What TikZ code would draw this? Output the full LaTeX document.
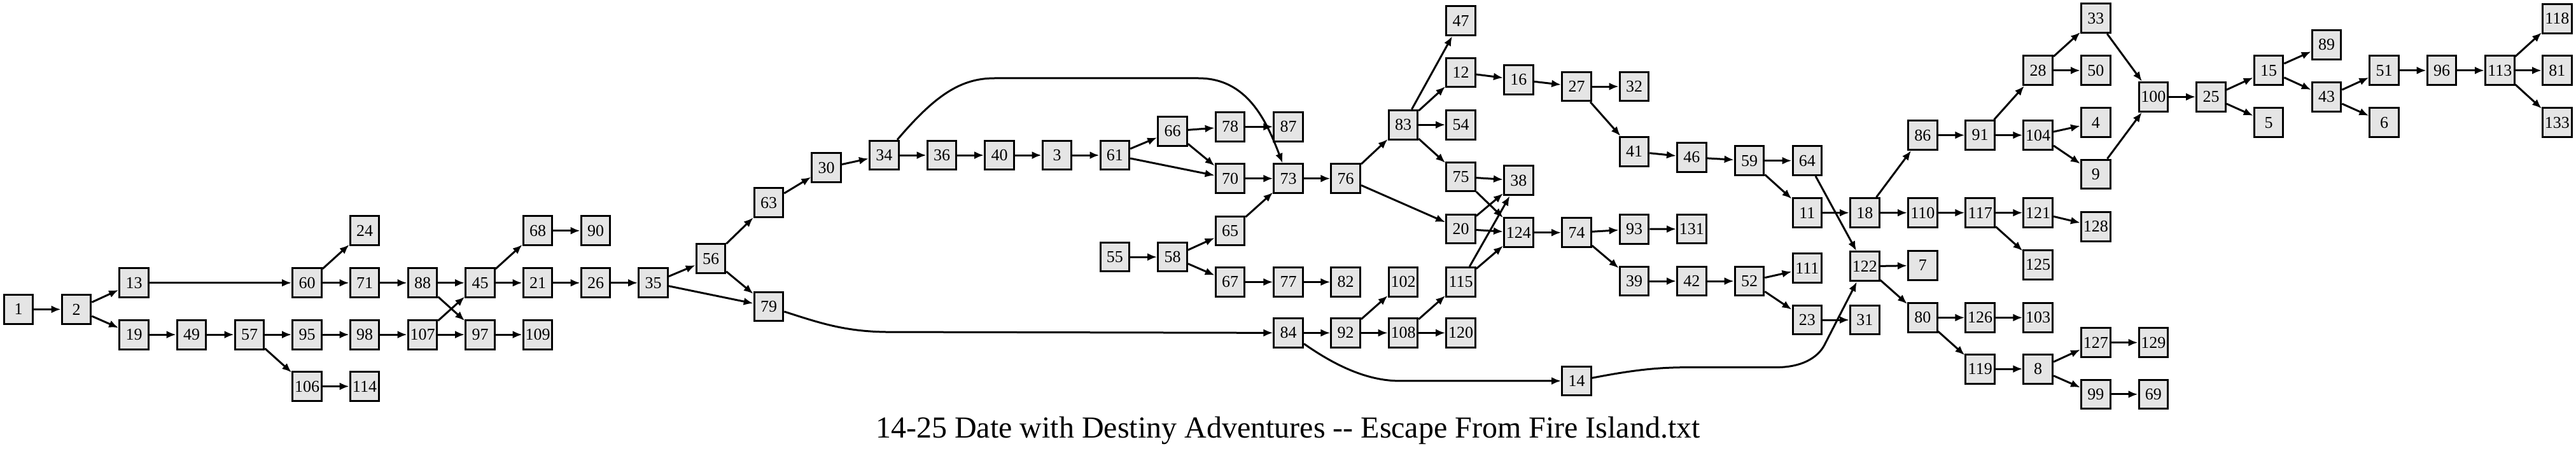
\documentclass[tikz,border=0pt]{standalone}
\usepackage{fontspec}
\setmainfont{Liberation Serif}
\usetikzlibrary{arrows.meta}
\tikzset{>={Latex[length=15pt,width=12pt]}}
\definecolor{boxgray}{gray}{0.9}
\tikzset{passage/.style = {draw=black, fill=boxgray, line width=3pt, minimum width=45.6pt, minimum height=45.8pt, inner sep=0pt, font=\fontsize{26}{30}\selectfont}}
\tikzset{link/.style = {->, line width=3pt}}

\begin{document}
\begin{tikzpicture}[x=1pt, y=-1.356pt]
		\useasboundingbox (0,0) rectangle (4048,520);

		% Start
		\node[passage] (n1) at (29,358.7) {1};
		\node[passage] (n2) at (120,358.7) {2};
		\node[passage] (n13) at (210.5,328) {13};
		\node[passage] (n19) at (210.5,388) {19};
		\node[passage] (n49) at (301,388) {49};
		\node[passage] (n57) at (392,388) {57};
		\node[passage] (n60) at (482.5,328) {60};
		\node[passage] (n95) at (482.5,388) {95};
		\node[passage] (n106) at (482.5,448) {106};
		\node[passage] (n24) at (573,267.5) {24};
		\node[passage] (n71) at (573,328) {71};
		\node[passage] (n98) at (573,388) {98};
		\node[passage] (n114) at (573,448) {114};
		\node[passage] (n88) at (664,328) {88};
		\node[passage] (n107) at (664,388) {107};
		\node[passage] (n45) at (754.5,328) {45};
		\node[passage] (n97) at (754.5,388) {97};
		\node[passage] (n68) at (845,267.5) {68};
		\node[passage] (n21) at (845,328) {21};
		\node[passage] (n109) at (845,388) {109};
		\node[passage] (n90) at (936,267.5) {90};
		\node[passage] (n26) at (936,328) {26};
		\node[passage] (n35) at (1026.5,328) {35};
		\node[passage] (n56) at (1117,300) {56};
		\node[passage] (n63) at (1208,235) {63};
		\node[passage] (n79) at (1208,355.5) {79};
		\node[passage] (n30) at (1298.7,194.5) {30};

		% Middle
		\node[passage] (n34) at (1389.3,180) {34};
		\node[passage] (n36) at (1480,180) {36};
		\node[passage] (n40) at (1570.5,180) {40};
		\node[passage] (n3) at (1661,180) {3};
		\node[passage] (n61) at (1751.8,180) {61};
		\node[passage] (n55) at (1751.8,298) {55};
		\node[passage] (n66) at (1842.5,152) {66};
		\node[passage] (n58) at (1842.5,298) {58};
		\node[passage] (n78) at (1933,147) {78};
		\node[passage] (n70) at (1933,207) {70};
		\node[passage] (n65) at (1933,267.7) {65};
		\node[passage] (n67) at (1933,327) {67};
		\node[passage] (n87) at (2024.7,147) {87};
		\node[passage] (n73) at (2024.7,207) {73};
		\node[passage] (n77) at (2024.7,327) {77};
		\node[passage] (n84) at (2024.7,386) {84};
		\node[passage] (n76) at (2114.7,207) {76};
		\node[passage] (n82) at (2114.7,327) {82};
		\node[passage] (n92) at (2114.7,386) {92};
		\node[passage] (n83) at (2205,144.7) {83};
		\node[passage] (n102) at (2205,327) {102};
		\node[passage] (n108) at (2205,386) {108};
		\node[passage] (n47) at (2295.5,24) {47};
		\node[passage] (n12) at (2295.5,84) {12};
		\node[passage] (n54) at (2295.5,144.7) {54};
		\node[passage] (n75) at (2295.5,205) {75};
		\node[passage] (n20) at (2295.5,265.5) {20};
		\node[passage] (n115) at (2295.5,327) {115};
		\node[passage] (n120) at (2295.5,386) {120};
		\node[passage] (n16) at (2386.3,92.5) {16};
		\node[passage] (n38) at (2386.3,209.3) {38};
		\node[passage] (n124) at (2386.3,269.7) {124};
		\node[passage] (n27) at (2477.5,100.3) {27};
		\node[passage] (n74) at (2477.5,269.7) {74};
		\node[passage] (n14) at (2477.5,441.7) {14};
		\node[passage] (n32) at (2568,100.3) {32};
		\node[passage] (n41) at (2568,175.7) {41};
		\node[passage] (n93) at (2568,265.7) {93};
		\node[passage] (n39) at (2568,326) {39};
		\node[passage] (n46) at (2658.3,182.5) {46};
		\node[passage] (n131) at (2658.3,265.5) {131};
		\node[passage] (n42) at (2658.3,326) {42};
		\node[passage] (n59) at (2749,186.3) {59};
		\node[passage] (n52) at (2749,326) {52};
		\node[passage] (n64) at (2839.8,186.3) {64};
		\node[passage] (n11) at (2839.8,246.7) {11};
		\node[passage] (n111) at (2839.8,311) {111};
		\node[passage] (n23) at (2839.8,371) {23};
		\node[passage] (n18) at (2930.3,246.7) {18};
		\node[passage] (n122) at (2930.3,308.8) {122};
		\node[passage] (n31) at (2930.3,371) {31};

		% End
		\node[passage] (n86) at (3021.3,156.7) {86};
		\node[passage] (n110) at (3021.3,246.7) {110};
		\node[passage] (n7) at (3021.3,307.8) {7};
		\node[passage] (n80) at (3021.3,368.3) {80};
		\node[passage] (n91) at (3111.7,156.7) {91};
		\node[passage] (n117) at (3111.7,246.7) {117};
		\node[passage] (n126) at (3111.7,368.3) {126};
		\node[passage] (n119) at (3111.7,427.8) {119};
		\node[passage] (n28) at (3202.7,81.7) {28};
		\node[passage] (n104) at (3202.7,156.7) {104};
		\node[passage] (n121) at (3202.7,246.7) {121};
		\node[passage] (n125) at (3202.7,307) {125};
		\node[passage] (n103) at (3202.7,368.3) {103};
		\node[passage] (n8) at (3202.7,427.8) {8};
		\node[passage] (n33) at (3293.3,21.2) {33};
		\node[passage] (n50) at (3293.3,81.7) {50};
		\node[passage] (n4) at (3293.3,142) {4};
		\node[passage] (n9) at (3293.3,202) {9};
		\node[passage] (n128) at (3293.3,262.7) {128};
		\node[passage] (n127) at (3293.3,397.2) {127};
		\node[passage] (n99) at (3293.3,457.2) {99};
		\node[passage] (n100) at (3383.8,112.3) {100};
		\node[passage] (n129) at (3383.8,397.2) {129};
		\node[passage] (n69) at (3383.8,457.2) {69};
		\node[passage] (n25) at (3474.5,112.3) {25};
		\node[passage] (n15) at (3565,81.7) {15};
		\node[passage] (n5) at (3565,142.2) {5};
		\node[passage] (n89) at (3656,51.8) {89};
		\node[passage] (n43) at (3656,112.3) {43};
		\node[passage] (n51) at (3746.7,81.7) {51};
		\node[passage] (n6) at (3746.7,142.2) {6};
		\node[passage] (n96) at (3837,81.7) {96};
		\node[passage] (n113) at (3928.3,81.7) {113};
		\node[passage] (n118) at (4018.3,21.5) {118};
		\node[passage] (n81) at (4018.3,81.7) {81};
		\node[passage] (n133) at (4018.3,142.2) {133};

		% Links
		\draw[link] (n1) -- (n2);
		\draw[link] (n2) -- (n13); \draw[link] (n2) -- (n19);
		\draw[link] (n13) -- (n60); \draw[link] (n19) -- (n49); \draw[link] (n49) -- (n57);
		\draw[link] (n57) -- (n95); \draw[link] (n57) -- (n106);
		\draw[link] (n60) -- (n24); \draw[link] (n60) -- (n71);
		\draw[link] (n71) -- (n88); \draw[link] (n95) -- (n98); \draw[link] (n98) -- (n107); \draw[link] (n106) -- (n114);
		\draw[link] (n88) -- (n45); \draw[link] (n88) -- (n97);
		\draw[link] (n107) -- (n45); \draw[link] (n107) -- (n97);
		\draw[link] (n45) -- (n68); \draw[link] (n45) -- (n21); \draw[link] (n97) -- (n109);
		\draw[link] (n68) -- (n90); \draw[link] (n21) -- (n26); \draw[link] (n26) -- (n35);
		\draw[link] (n35) -- (n56); \draw[link] (n35) -- (n79);
		\draw[link] (n56) -- (n63); \draw[link] (n56) -- (n79);
		\draw[link] (n63) -- (n30); \draw[link] (n30) -- (n34);
		\draw[link] (n34) -- (n36); \draw[link] (n36) -- (n40); \draw[link] (n40) -- (n3); \draw[link] (n3) -- (n61);
		\draw[link] (n61) -- (n66); \draw[link] (n61) -- (n70);
		\draw[link] (n66) -- (n78); \draw[link] (n66) -- (n70);
		\draw[link] (n55) -- (n58); \draw[link] (n58) -- (n65); \draw[link] (n58) -- (n67);
		\draw[link] (n78) -- (n87); \draw[link] (n70) -- (n73); \draw[link] (n65) -- (n73); \draw[link] (n67) -- (n77);
		\draw[link] (n73) -- (n76); \draw[link] (n76) -- (n83); \draw[link] (n76) -- (n20);
		\draw[link] (n83) -- (n47); \draw[link] (n83) -- (n12); \draw[link] (n83) -- (n54); \draw[link] (n83) -- (n75);
		\draw[link] (n77) -- (n82); \draw[link] (n84) -- (n92);
		\draw[link] (n92) -- (n102); \draw[link] (n92) -- (n108);
		\draw[link] (n108) -- (n115); \draw[link] (n108) -- (n120);
		\draw[link] (n12) -- (n16); \draw[link] (n16) -- (n27);
		\draw[link] (n27) -- (n32); \draw[link] (n27) -- (n41); \draw[link] (n41) -- (n46);
		\draw[link] (n75) -- (n38); \draw[link] (n75) -- (n124);
		\draw[link] (n20) -- (n38); \draw[link] (n20) -- (n124);
		\draw[link] (n115) -- (n38); \draw[link] (n115) -- (n124);
		\draw[link] (n124) -- (n74); \draw[link] (n74) -- (n93); \draw[link] (n74) -- (n39);
		\draw[link] (n93) -- (n131); \draw[link] (n39) -- (n42);
		\draw[link] (n46) -- (n59); \draw[link] (n59) -- (n64); \draw[link] (n59) -- (n11);
		\draw[link] (n11) -- (n18); \draw[link] (n64) -- (n122);
		\draw[link] (n42) -- (n52); \draw[link] (n52) -- (n111); \draw[link] (n52) -- (n23); \draw[link] (n23) -- (n31);
		\draw[link] (n18) -- (n86); \draw[link] (n18) -- (n110);
		\draw[link] (n122) -- (n7); \draw[link] (n122) -- (n80);
		\draw[link] (n86) -- (n91); \draw[link] (n91) -- (n28); \draw[link] (n91) -- (n104);
		\draw[link] (n28) -- (n33); \draw[link] (n28) -- (n50);
		\draw[link] (n104) -- (n4); \draw[link] (n104) -- (n9);
		\draw[link] (n110) -- (n117); \draw[link] (n117) -- (n121); \draw[link] (n117) -- (n125); \draw[link] (n121) -- (n128);
		\draw[link] (n80) -- (n126); \draw[link] (n126) -- (n103); \draw[link] (n80) -- (n119);
		\draw[link] (n119) -- (n8); \draw[link] (n8) -- (n127); \draw[link] (n8) -- (n99);
		\draw[link] (n127) -- (n129); \draw[link] (n99) -- (n69);
		\draw[link] (n33) -- (n100); \draw[link] (n9) -- (n100); \draw[link] (n100) -- (n25);
		\draw[link] (n25) -- (n15); \draw[link] (n25) -- (n5);
		\draw[link] (n15) -- (n89); \draw[link] (n15) -- (n43);
		\draw[link] (n43) -- (n51); \draw[link] (n43) -- (n6);
		\draw[link] (n51) -- (n96); \draw[link] (n96) -- (n113);
		\draw[link] (n113) -- (n118); \draw[link] (n113) -- (n81); \draw[link] (n113) -- (n133);

		% Long links
		\draw[link] (n34) .. controls (1470,110) and (1510,90.7) .. (1563,90.7) -- (1883,90.7) .. controls (1960,90.7) and (1990,140) .. (n73);
		\draw[link] (n79) .. controls (1290,375) and (1330,385) .. (1400,385) -- (n84);
		\draw[link] (n84) .. controls (2100,425) and (2150,441.7) .. (2200,441.7) -- (n14);
		\draw[link] (n14) .. controls (2560,430) and (2600,426) .. (2650,426) -- (2790,426) .. controls (2840,426) and (2860,410) .. (2867,400) -- (n122);

		% Title
		\node[font=\fontsize{48}{56}\selectfont, anchor=base] (title) at (2024,508) {14-25 Date with Destiny Adventures -{}- Escape From Fire Island.txt};
	\end{tikzpicture}
\end{document}
